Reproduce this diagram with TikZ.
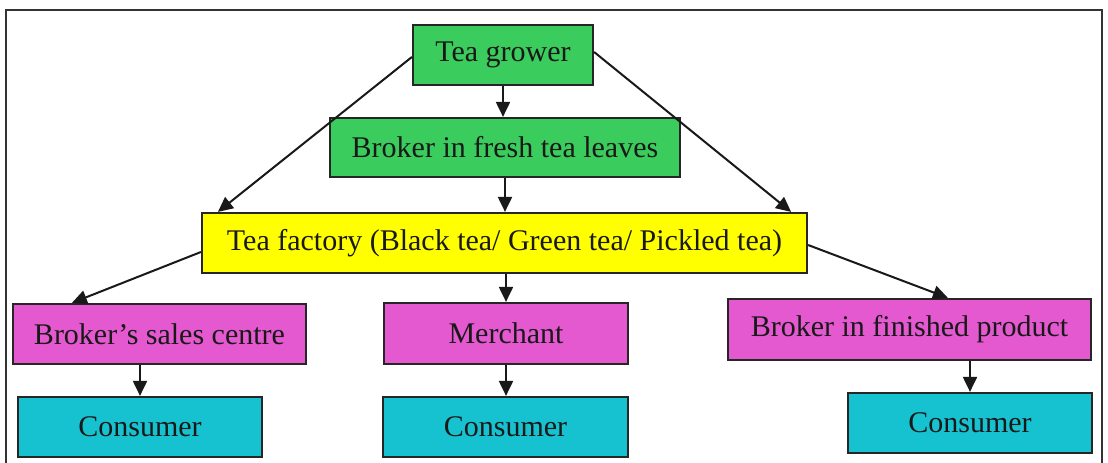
\documentclass[tikz,border=0pt]{standalone}
\usepackage{fontspec}
\setmainfont{Liberation Serif}
\usetikzlibrary{arrows.meta,calc}
\definecolor{gr}{RGB}{58,204,92}
\definecolor{yel}{RGB}{255,255,0}
\definecolor{mag}{RGB}{228,88,208}
\definecolor{cy}{RGB}{22,194,208}
\begin{document}
\begin{tikzpicture}[x=1pt,y=-1pt,
  box/.style={draw=black!85,line width=2.2pt,rectangle,inner sep=0pt,
    font=\fontsize{30}{36}\selectfont,text=black!90},
  arr/.style={line width=2pt,black!90,-{Triangle[length=15pt,width=14pt]}}]
\useasboundingbox (0,0) rectangle (1108,463);
\fill[white] (0,0) rectangle (1108,463);
\draw[line width=2.2pt,black!80] (6,470) -- (6,10) -- (1102,10) -- (1102,470);
\node[box,fill=gr,minimum width=180pt,minimum height=60pt] (grower) at (503,55) {Tea grower};
\node[box,fill=gr,minimum width=350pt,minimum height=59pt] (fresh) at (505,147.5) {Broker in fresh tea leaves};
\node[box,fill=yel,minimum width=605pt,minimum height=60pt] (factory) at (504.5,243) {Tea factory (Black tea/ Green tea/ Pickled tea)};
\node[box,fill=mag,minimum width=293pt,minimum height=60pt] (bsc) at (159.5,334) {Broker’s sales centre};
\node[box,fill=cy,minimum width=244pt,minimum height=60pt] (cons1) at (140,427) {Consumer};
\node[box,fill=mag,minimum width=244pt,minimum height=61pt] (merchant) at (506,333.5) {Merchant};
\node[box,fill=cy,minimum width=245pt,minimum height=60pt] (cons2) at (505.5,427) {Consumer};
\node[box,fill=mag,minimum width=363pt,minimum height=61pt] (bfp) at (909.5,329.5) {Broker in finished product};
\node[box,fill=cy,minimum width=244pt,minimum height=60pt] (cons3) at (970,423) {Consumer};
\draw[arr] (grower.south) -- (grower.south |- fresh.north);
\draw[arr] (fresh.south) -- (fresh.south |- factory.north);
\draw[arr] ($(grower.west)+(0,2)$) -- ($(factory.north west)+(17,0)$);
\draw[arr] ($(grower.east)+(0,-3)$) -- ($(factory.north east)+(-17,0)$);
\draw[arr] ($(factory.west)+(0,9)$) -- ($(bsc.north west)+(60,0)$);
\draw[arr] (merchant.north |- factory.south) -- (merchant.north);
\draw[arr] ($(factory.east)+(0,2)$) -- ($(bfp.north west)+(221,0)$);
\draw[arr] (cons1.north |- bsc.south) -- (cons1.north);
\draw[arr] (merchant.south) -- (merchant.south |- cons2.north);
\draw[arr] (cons3.north |- bfp.south) -- (cons3.north);
\end{tikzpicture}
\end{document}
